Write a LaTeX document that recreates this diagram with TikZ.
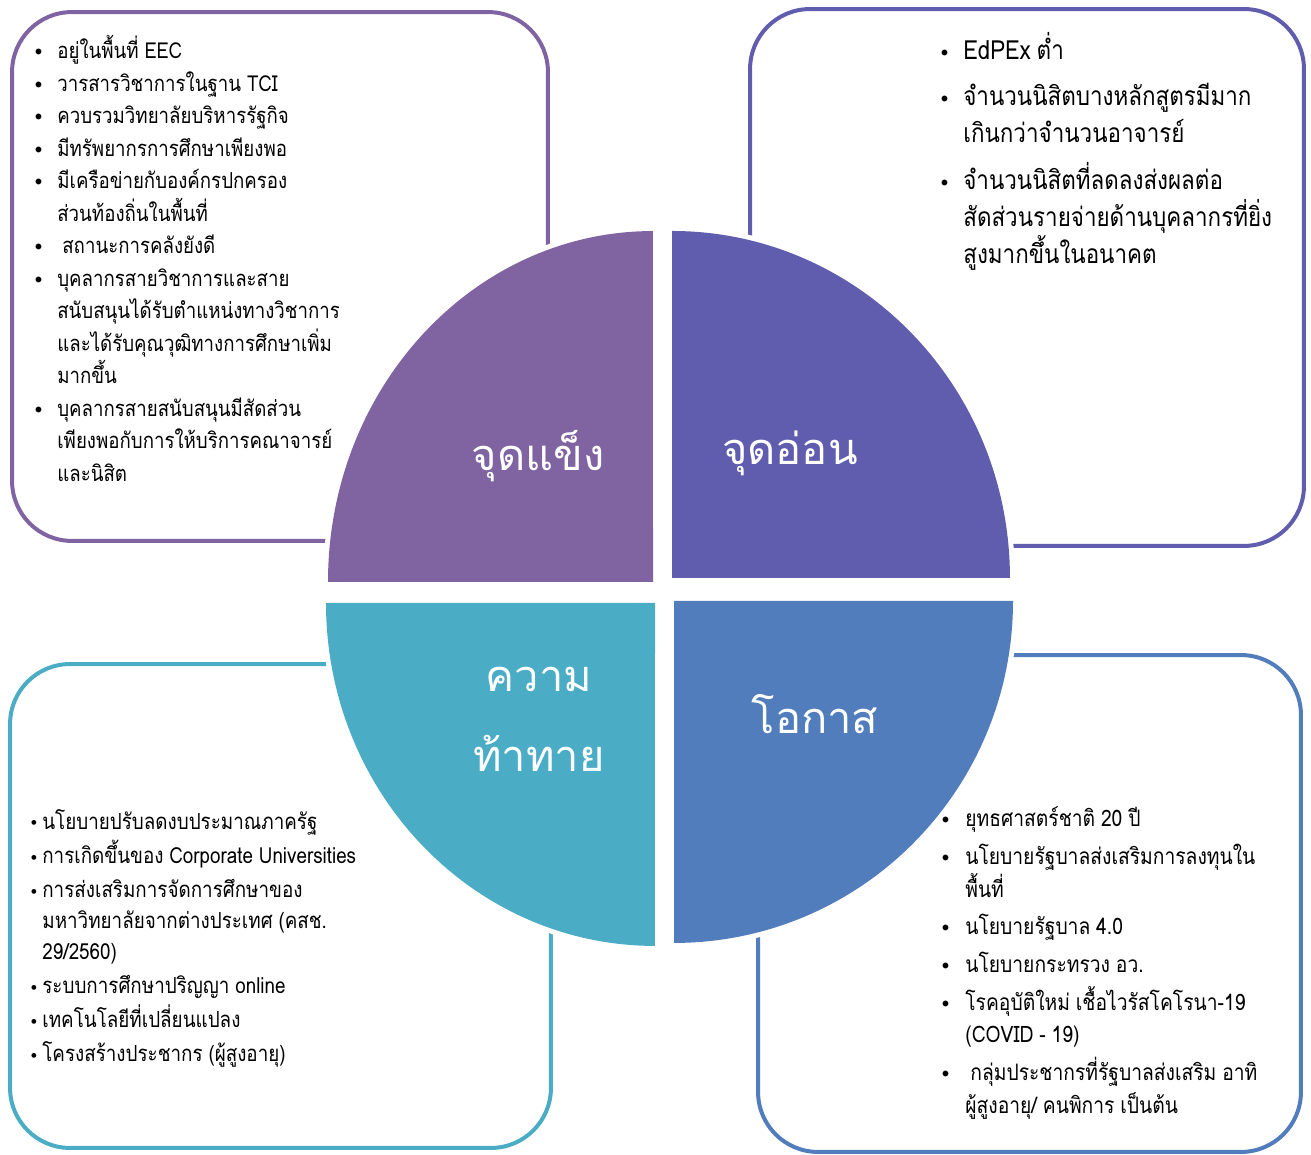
\documentclass[tikz,border=0pt]{standalone}
\usepackage{fontspec}
\setmainfont[Script=Thai, FakeStretch=0.85]{Loma}
\newfontfamily\titlefont[Script=Thai]{Loma}
\usepackage{enumitem}
\usetikzlibrary{positioning}
\definecolor{swpurple}{RGB}{128,100,162}
\definecolor{swindigo}{RGB}{96,93,175}
\definecolor{swteal}{RGB}{75,172,198}
\definecolor{swblue}{RGB}{82,125,189}
\tikzset{
  swbox/.style={draw=#1, line width=0.08cm, rounded corners=1.2cm, inner sep=0pt},
  sector/.style={fill=#1, preaction={draw=white, line width=0.2cm}},
  title/.style={text=white, font=\titlefont\fontsize{24.7}{45.5}\selectfont, align=center},
  list/.style={anchor=north west, text width=10.6cm, inner sep=0pt, align=left}
}
\newcommand\swdot{\raisebox{1.8pt}{\fontsize{8}{8}\selectfont$\bullet$}}
\newcommand\swsmalldot{\raisebox{1.8pt}{\fontsize{6.5}{6.5}\selectfont$\bullet$}}
\setlist[itemize]{nosep, label=\swdot}

\begin{document}
\begin{tikzpicture}[x=0.02cm, y=0.02cm]
      \useasboundingbox (0,0) rectangle (1311,1155);
      % corner boxes
      \node [swbox=swpurple, minimum width=10.72cm, minimum height=10.58cm] (strength-box) at (280,878.5) {};
      \node [swbox=swindigo, minimum width=11.08cm, minimum height=10.74cm] (weakness-box) at (1027,877.5) {};
      \node [swbox=swteal, minimum width=10.82cm, minimum height=9.68cm] (threat-box) at (280.5,249) {};
      \node [swbox=swblue, minimum width=10.86cm, minimum height=9.94cm] (chance-box) at (1029.5,251.5) {};
      % quarter sectors
      \path [sector=swpurple] (653,573) -- (328,573) arc[start angle=180, end angle=90, x radius=6.5cm, y radius=7.02cm] -- cycle;
      \path [sector=swindigo] (672,577) -- (672,924) arc[start angle=90, end angle=0, x radius=6.76cm, y radius=6.94cm] -- cycle;
      \path [sector=swteal] (655,552) -- (326,552) arc[start angle=180, end angle=270, x radius=6.58cm, y radius=6.86cm] -- cycle;
      \path [sector=swblue] (674,554) -- (1013,554) arc[start angle=0, end angle=-90, x radius=6.78cm, y radius=6.84cm] -- cycle;
      % sector titles
      \node [title] (strength) at (538,699) {จุดแข็ง};
      \node [title] (weakness) at (790,702) {จุดอ่อน};
      \node [title] (threat) at (539,436) {ความ\\ท้าทาย};
      \node [title] (chance) at (815,441) {โอกาส};
      % lists
      \node [list] (strength-list) at (37,1129) {\fontsize{12.5}{18.5}\selectfont
        \begin{itemize}[leftmargin=0.4cm, labelsep=0.3cm]
        \item อยู่ในพื้นที่ EEC
        \item วารสารวิชาการในฐาน TCI
        \item ควบรวมวิทยาลัยบริหารรัฐกิจ
        \item มีทรัพยากรการศึกษาเพียงพอ
        \item มีเครือข่ายกับองค์กรปกครอง\\ส่วนท้องถิ่นในพื้นที่
        \item \hspace{0.1cm}สถานะการคลังยังดี
        \item บุคลากรสายวิชาการและสาย\\สนับสนุนได้รับตำแหน่งทางวิชาการ\\และได้รับคุณวุฒิทางการศึกษาเพิ่ม\\มากขึ้น
        \item บุคลากรสายสนับสนุนมีสัดส่วน\\เพียงพอกับการให้บริการคณาจารย์\\และนิสิต
        \end{itemize}};
      \node [list] (weakness-list) at (943,1133) {\fontsize{15}{21}\selectfont
        \begin{itemize}[leftmargin=0.4cm, labelsep=0.3cm, itemsep=5.5pt]
        \item EdPEx ต่ำ
        \item จำนวนนิสิตบางหลักสูตรมีมาก\\เกินกว่าจำนวนอาจารย์
        \item จำนวนนิสิตที่ลดลงส่งผลต่อ\\สัดส่วนรายจ่ายด้านบุคลากรที่ยิ่ง\\สูงมากขึ้นในอนาคต
        \end{itemize}};
      \node [list] (threat-list) at (30,357) {\fontsize{12.6}{17.5}\selectfont
        \begin{itemize}[leftmargin=0.24cm, labelsep=0.1cm, itemsep=2pt, label=\swsmalldot]
        \item นโยบายปรับลดงบประมาณภาครัฐ
        \item การเกิดขึ้นของ Corporate Universities
        \item การส่งเสริมการจัดการศึกษาของ\\มหาวิทยาลัยจากต่างประเทศ (คสช.\\29/2560)
        \item ระบบการศึกษาปริญญา online
        \item เทคโนโลยีที่เปลี่ยนแปลง
        \item โครงสร้างประชากร (ผู้สูงอายุ)
        \end{itemize}};
      \node [list] (chance-list) at (943,361) {\fontsize{12.9}{18.5}\selectfont
        \begin{itemize}[leftmargin=0.44cm, labelsep=0.32cm, itemsep=3pt]
        \item ยุทธศาสตร์ชาติ 20 ปี
        \item นโยบายรัฐบาลส่งเสริมการลงทุนใน\\พื้นที่
        \item นโยบายรัฐบาล 4.0
        \item นโยบายกระทรวง อว.
        \item โรคอุบัติใหม่ เชื้อไวรัสโคโรนา-19\\(COVID - 19)
        \item \hspace{0.1cm}กลุ่มประชากรที่รัฐบาลส่งเสริม อาทิ\\ผู้สูงอายุ/ คนพิการ เป็นต้น
        \end{itemize}};
\end{tikzpicture}
\end{document}
